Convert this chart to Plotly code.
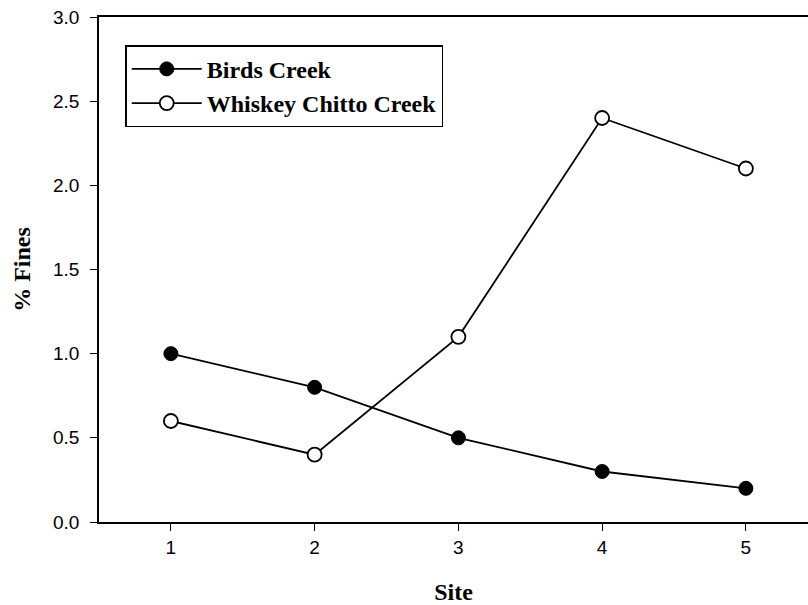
import plotly.graph_objects as go

sites = [1, 2, 3, 4, 5]
birds_creek = [1.0, 0.8, 0.5, 0.3, 0.2]
whiskey_chitto = [0.6, 0.4, 1.1, 2.4, 2.1]
y_ticks = [0.0, 0.5, 1.0, 1.5, 2.0, 2.5, 3.0]
y_tick_labels = ["0.0", "0.5", "1.0", "1.5", "2.0", "2.5", "3.0"]

fig = go.Figure()
fig.add_trace(go.Scatter(
    x=sites, y=birds_creek, name="Birds Creek", mode="lines+markers",
    line=dict(color="black", width=1.8),
    marker=dict(symbol="circle", size=14, color="black", line=dict(color="black", width=1)),
))
fig.add_trace(go.Scatter(
    x=sites, y=whiskey_chitto, name="Whiskey Chitto Creek", mode="lines+markers",
    line=dict(color="black", width=1.8),
    marker=dict(symbol="circle", size=14, color="white", line=dict(color="black", width=1.8)),
))

fig.update_layout(
    width=808, height=605,
    margin=dict(l=99, r=0, t=17, b=83, autoexpand=False),
    plot_bgcolor="white", paper_bgcolor="white",
    showlegend=True,
    legend=dict(
        x=0.037, y=0.944, xanchor="left", yanchor="top",
        bgcolor="white", bordercolor="black", borderwidth=1.5,
        font=dict(family="Liberation Serif", size=24, color="black", weight="bold"),
        itemwidth=70,
    ),
    xaxis=dict(
        range=[0.5, 5.432], tickvals=sites, ticktext=[str(s) for s in sites],
        showline=True, linecolor="black", linewidth=1.5, mirror=True,
        ticks="outside", ticklen=7, tickcolor="black", tickwidth=1.2,
        showgrid=False, zeroline=False,
        tickfont=dict(family="Liberation Sans", size=19, color="black"),
        title=dict(text="Site", standoff=29,
                   font=dict(family="Liberation Serif", size=24, color="black", weight="bold")),
    ),
    yaxis=dict(
        range=[0, 3.0], tickvals=y_ticks, ticktext=y_tick_labels,
        showline=True, linecolor="black", linewidth=1.5, mirror=False,
        ticks="outside", ticklen=7, tickcolor="black", tickwidth=1.2,
        ticklabelstandoff=7,
        showgrid=False, zeroline=False,
        tickfont=dict(family="Liberation Sans", size=19, color="black"),
        title=dict(text="% Fines", standoff=16,
                   font=dict(family="Liberation Serif", size=24, color="black", weight="bold")),
    ),
)

fig.write_html(
    "out.html",
    config={"displayModeBar": False},
    post_script="document.body.style.margin='0';document.body.style.overflow='hidden';",
)
